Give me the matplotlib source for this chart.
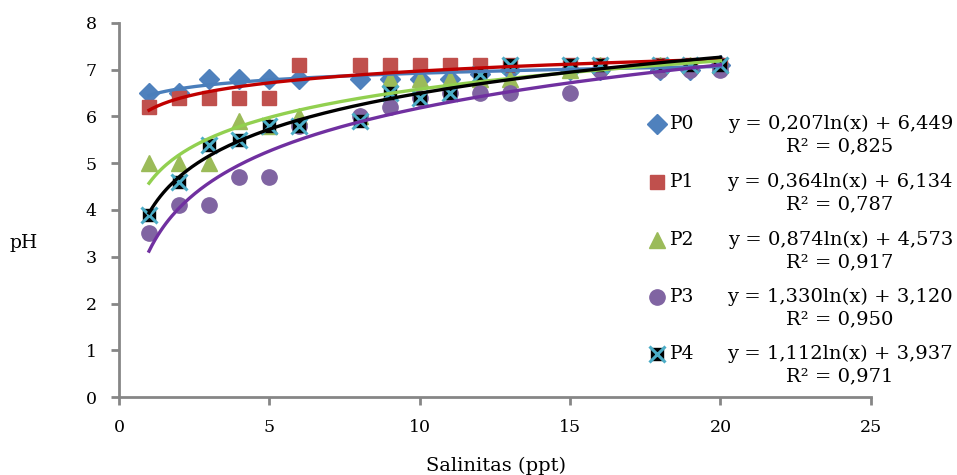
import numpy as np
import matplotlib
matplotlib.use("Agg")
import matplotlib.pyplot as plt
from matplotlib.lines import Line2D

plt.rcParams['font.family'] = ['DejaVu Serif', 'Liberation Serif']

salinity = [1, 2, 3, 4, 5, 6, 8, 9, 10, 11, 12, 13, 15, 16, 18, 19, 20]
p0 = [6.5, 6.5, 6.8, 6.8, 6.8, 6.8, 6.8, 6.8, 6.8, 6.8, 6.9, 7.0, 7.0, 7.0, 7.0, 7.0, 7.1]
p1 = [6.2, 6.4, 6.4, 6.4, 6.4, 7.1, 7.1, 7.1, 7.1, 7.1, 7.1, 7.1, 7.1, 7.1, 7.1, 7.1, 7.1]
p2 = [5.0, 5.0, 5.0, 5.9, 5.8, 6.0, 6.0, 6.8, 6.8, 6.8, 6.8, 6.8, 7.0, 7.1, 7.1, 7.1, 7.1]
p3 = [3.5, 4.1, 4.1, 4.7, 4.7, 5.8, 6.0, 6.2, 6.4, 6.5, 6.5, 6.5, 6.5, 7.0, 7.0, 7.0, 7.0]
p4 = [3.9, 4.6, 5.4, 5.5, 5.8, 5.8, 5.9, 6.5, 6.4, 6.5, 6.9, 7.1, 7.1, 7.1, 7.1, 7.1, 7.1]

series_names = ["P0", "P1", "P2", "P3", "P4"]
slopes = [0.207, 0.364, 0.874, 1.330, 1.112]
intercepts = [6.449, 6.134, 4.573, 3.120, 3.937]
eq_labels = ["y = 0,207ln(x) + 6,449", "y = 0,364ln(x) + 6,134", "y = 0,874ln(x) + 4,573",
             "y = 1,330ln(x) + 3,120", "y = 1,112ln(x) + 3,937"]
r2_labels = ["R² = 0,825", "R² = 0,787", "R² = 0,917", "R² = 0,950", "R² = 0,971"]

marker_colors = ["#4F81BD", "#C0504D", "#9BBB59", "#8064A2", "#4BACC6"]
line_colors = ["#4A7EBB", "#C00000", "#92D050", "#7030A0", "#000000"]

fig = plt.figure(figsize=(9.57, 4.75), dpi=100)
ax = fig.add_axes([0.1243, 0.1642, 0.7857, 0.7874])

data = [p0, p1, p2, p3, p4]
ms_specs = [("D", 10), ("s", 10.5), ("^", 11.5), ("o", 11), ("s", 8)]
for i, ys in enumerate(data):
    m, ms = ms_specs[i]
    if i < 4:
        ax.plot(salinity, ys, linestyle="none", marker=m, markersize=ms,
                color=marker_colors[i], markeredgecolor=marker_colors[i], zorder=3 + i * 0.1)
    else:
        ax.plot(salinity, ys, linestyle="none", marker="s", markersize=8,
                color="black", markeredgecolor="black", zorder=3.4)
        ax.plot(salinity, ys, linestyle="none", marker="x", markersize=11,
                markeredgewidth=2.2, color=marker_colors[i], zorder=3.45)

xs = np.linspace(1, 20, 200)
for i in range(5):
    ax.plot(xs, slopes[i] * np.log(xs) + intercepts[i], color=line_colors[i], lw=2.4, zorder=5)

ax.set_xlim(0, 25)
ax.set_ylim(0, 8)
ax.set_xticks([0, 5, 10, 15, 20, 25])
ax.set_yticks(range(0, 9))
for s in ["top", "right"]:
    ax.spines[s].set_visible(False)
for s in ["left", "bottom"]:
    ax.spines[s].set_color("#868686")
    ax.spines[s].set_linewidth(2)
ax.tick_params(axis="both", colors="#868686", width=2, length=6, direction="out",
               labelcolor="black", labelsize=12.5, pad=10)

fig.text(10 / 957, 1 - 243 / 475, "pH", fontsize=13.5, ha="left", va="center")
fig.text(496 / 957, 1 - 466 / 475, "Salinitas (ppt)", fontsize=14, ha="center", va="center")

# Legend with trendline equations
leg_y = [124, 182, 240, 297, 354]
for i in range(5):
    yf = 1 - leg_y[i] / 475
    fig.text(670 / 957, yf, series_names[i], fontsize=13.5, ha="left", va="center")
    fig.text(953 / 957, yf, eq_labels[i], fontsize=14, ha="right", va="center")
    fig.text(840 / 957, 1 - (leg_y[i] + 22) / 475, r2_labels[i], fontsize=14,
             ha="center", va="center")
    xf = 657 / 957
    m, ms = ms_specs[i]
    if i < 4:
        fig.add_artist(Line2D([xf], [yf], transform=fig.transFigure, marker=m,
                              markersize=ms, color=marker_colors[i], linestyle="none"))
    else:
        fig.add_artist(Line2D([xf], [yf], transform=fig.transFigure, marker="s",
                              markersize=8, color="black", linestyle="none"))
        fig.add_artist(Line2D([xf], [yf], transform=fig.transFigure, marker="x",
                              markersize=11, markeredgewidth=2.2,
                              color=marker_colors[i], linestyle="none"))

fig.savefig("out.png", dpi=100)
